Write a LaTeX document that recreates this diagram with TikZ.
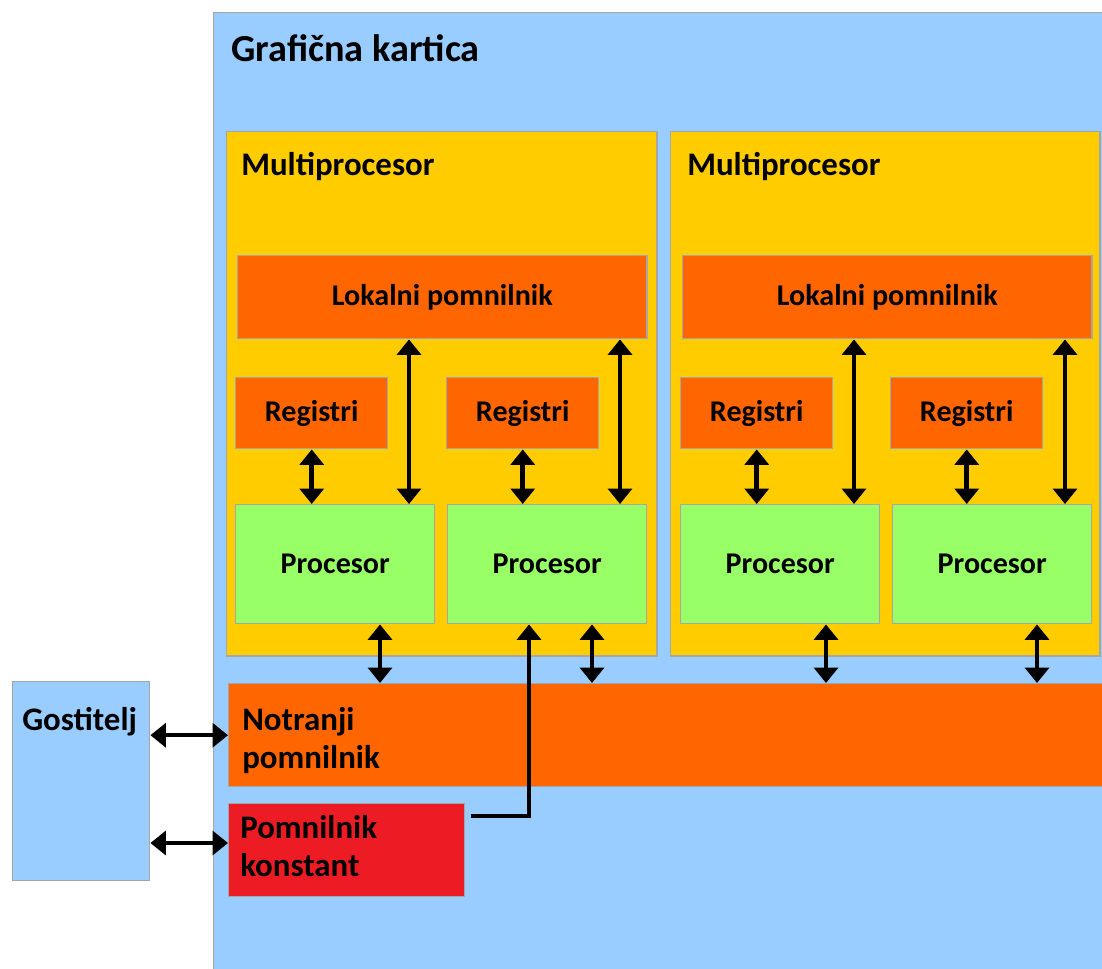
\documentclass[tikz,border=0pt]{standalone}
\usepackage{fontspec}
\setmainfont{Carlito}
\usetikzlibrary{arrows.meta}
\definecolor{kartica}{HTML}{99CCFF}
\definecolor{multi}{HTML}{FFCC00}
\definecolor{pomnilnik}{HTML}{FF6600}
\definecolor{procesor}{HTML}{99FF66}
\definecolor{konstant}{HTML}{ED1C24}
\definecolor{rob}{HTML}{A6A6A6}
\begin{document}
\begin{tikzpicture}[x=0.025cm, y=-0.025cm,
		font=\bfseries\fontsize{21.4}{26.5}\selectfont,
		box/.style={draw=rob, line width=1pt, anchor=north west, inner sep=0pt},
		lokal/.style={box, fill=pomnilnik, minimum width=10.225cm, minimum height=2.075cm},
		reg/.style={box, fill=pomnilnik, minimum width=3.8cm, minimum height=1.775cm},
		proc/.style={box, fill=procesor, minimum width=4.975cm, minimum height=2.975cm},
		oznaka/.style={anchor=base west, inner sep=0pt, align=left, font=\bfseries\fontsize{23.4}{26.5}\selectfont},
		dbl/.style={{Triangle[width=17pt,length=11pt]}-{Triangle[width=17pt,length=11pt]}, line width=3.2pt},
		one/.style={-{Triangle[width=17pt,length=11pt]}, line width=3.2pt}]
	\useasboundingbox (0,0) rectangle (1102,968);
	\node[box, fill=kartica, minimum width=22.675cm, minimum height=24.45cm] (KA) at (213,12) {};
	\node[box, fill=multi, minimum width=10.75cm, minimum height=13.1cm] (MA) at (226,131) {};
	\node[box, fill=multi, minimum width=10.725cm, minimum height=13.1cm] (MB) at (670,131) {};
	\node[lokal] (LA) at (237,255) {Lokalni pomnilnik};
	\node[lokal] (LB) at (682,255) {Lokalni pomnilnik};
	\node[reg] (RA) at (235,377) {Registri};
	\node[reg] (RB) at (446,377) {Registri};
	\node[reg] (RC) at (680,377) {Registri};
	\node[reg] (RD) at (890,377) {Registri};
	\node[proc] (PA) at (235,504) {Procesor};
	\node[proc] (PB) at (447,504) {Procesor};
	\node[proc] (PC) at (680,504) {Procesor};
	\node[proc] (PD) at (892,504) {Procesor};
	\node[box, fill=pomnilnik, minimum width=22.05cm, minimum height=2.575cm] (NP) at (228,683) {};
	\node[box, fill=konstant, minimum width=5.9cm, minimum height=2.325cm] (PK) at (228,803) {};
	\node[box, fill=kartica, minimum width=3.425cm, minimum height=4.975cm] (GO) at (12,681) {};

	\node[oznaka, font=\bfseries\fontsize{27.2}{30}\selectfont] (TK) at (231,61) {Grafična kartica};
	\node[oznaka] (TMA) at (241,175) {Multiprocesor};
	\node[oznaka] (TMB) at (687,175) {Multiprocesor};
	\node[oznaka] (TGO) at (22,730) {Gostitelj};
	\node[oznaka] (TNP) at (242,768) {Notranji\\pomnilnik};
	\node[oznaka] (TPK) at (240,876) {Pomnilnik\\konstant};

	\draw[dbl] (RA.south) -- (RA.south |- PA.north);
	\draw[dbl] (RB.south) -- (RB.south |- PB.north);
	\draw[dbl] (RC.south) -- (RC.south |- PC.north);
	\draw[dbl] (RD.south) -- (RD.south |- PD.north);
	\draw[dbl] (LA.south -| 409,0) -- (PA.north -| 409,0);
	\draw[dbl] (LA.south -| 620,0) -- (PB.north -| 620,0);
	\draw[dbl] (LB.south -| 854,0) -- (PC.north -| 854,0);
	\draw[dbl] (LB.south -| 1065,0) -- (PD.north -| 1065,0);
	\draw[dbl] (PA.south -| 380,0) -- (NP.north -| 380,0);
	\draw[dbl] (PB.south -| 592,0) -- (NP.north -| 592,0);
	\draw[dbl] (PC.south -| 826,0) -- (NP.north -| 826,0);
	\draw[dbl] (PD.south -| 1037,0) -- (NP.north -| 1037,0);
	\draw[dbl] (GO.east |- NP.west) -- (NP.west);
	\draw[dbl] (GO.east |- 0,843) -- (PK.west |- 0,843);
	\coordinate (KS) at (471,816);
	\draw[one] (KS) -| (PB.south -| 529,0);
\end{tikzpicture}
\end{document}
